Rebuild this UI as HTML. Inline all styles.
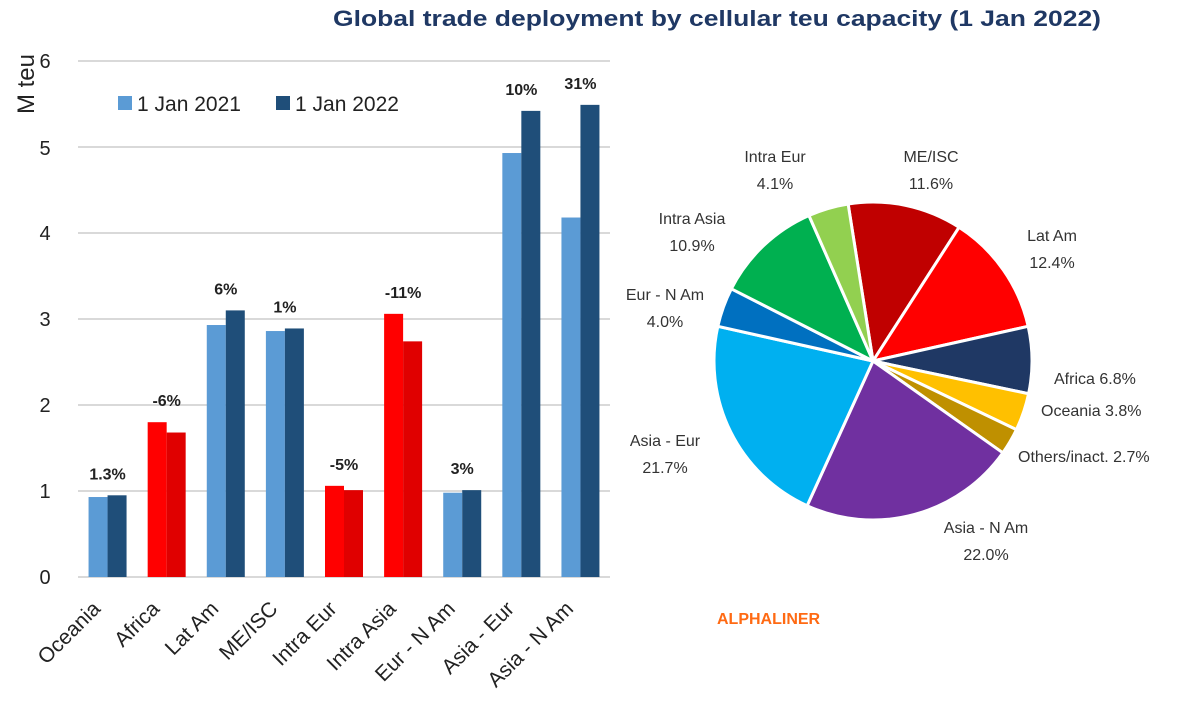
<!DOCTYPE html>
<html><head><meta charset="utf-8"><style>
body{margin:0;background:#fff;}
svg{display:block;font-family:"Liberation Sans",sans-serif;}
</style></head><body>
<svg id="s" width="1200" height="712" viewBox="0 0 1200 712" xmlns="http://www.w3.org/2000/svg">
<rect width="1200" height="712" fill="#fff"/>
<text x="333" y="26" textLength="768" lengthAdjust="spacingAndGlyphs" font-size="22" font-weight="bold" fill="#1f3864">Global trade deployment by cellular teu capacity (1 Jan 2022)</text>
<g id="grid" stroke="#d9d9d9" stroke-width="2"></g>
<g id="bars"></g>
<g font-size="20" fill="#222" text-anchor="middle">
<text x="45" y="68">6</text><text x="45" y="155">5</text><text x="45" y="240">4</text><text x="45" y="326">3</text><text x="45" y="412">2</text><text x="45" y="498">1</text><text x="45" y="584">0</text>
</g>
<text transform="translate(34,84) rotate(-90)" text-anchor="middle" font-size="24" fill="#222">M teu</text>
<rect x="118" y="96" width="14" height="14" fill="#5b9bd5"/>
<text x="137" y="111" font-size="21" fill="#222">1 Jan 2021</text>
<rect x="276" y="96" width="14" height="14" fill="#1f4e79"/>
<text x="295" y="111" font-size="21" fill="#222">1 Jan 2022</text>
<g id="pie"></g>
<g font-size="16" fill="#333" text-anchor="middle">
<text x="775" y="162">Intra Eur</text><text x="775" y="189">4.1%</text>
<text x="931" y="162">ME/ISC</text><text x="931" y="189">11.6%</text>
<text x="1052" y="241">Lat Am</text><text x="1052" y="268">12.4%</text>
<text x="692" y="224">Intra Asia</text><text x="692" y="251">10.9%</text>
<text x="665" y="300">Eur - N Am</text><text x="665" y="327">4.0%</text>
<text x="665" y="446">Asia - Eur</text><text x="665" y="473">21.7%</text>
<text x="986" y="533">Asia - N Am</text><text x="986" y="560">22.0%</text>
</g>
<g font-size="16" fill="#333">
<text x="1054" y="384">Africa 6.8%</text>
<text x="1041" y="416">Oceania 3.8%</text>
<text x="1018" y="462">Others/inact. 2.7%</text>
</g>
<text x="717" y="624" font-size="16" font-weight="bold" fill="#ff6a13">ALPHALINER</text>
</svg>
<script>
const NS="http://www.w3.org/2000/svg";
function el(p,t,a,txt){const e=document.createElementNS(NS,t);for(const k in a)e.setAttribute(k,a[k]);if(txt)e.textContent=txt;p.appendChild(e);return e;}
const g=document.getElementById('grid');
const y=v=>577-v*86;
for(let i=1;i<=6;i++)el(g,'line',{x1:78,x2:610,y1:y(i),y2:y(i)});
const b=document.getElementById('bars');
const d=[["Oceania",.93,.95,0,"1.3%"],["Africa",1.8,1.68,1,"-6%"],["Lat Am",2.93,3.1,0,"6%"],["ME/ISC",2.86,2.89,0,"1%"],["Intra Eur",1.06,1.01,1,"-5%"],["Intra Asia",3.06,2.74,1,"-11%"],["Eur - N Am",.98,1.01,0,"3%"],["Asia - Eur",4.93,5.42,0,"10%"],["Asia - N Am",4.18,5.49,0,"31%"]];
const cw=(610-78)/9;
d.forEach((r,i)=>{const c=78+cw*(i+.5);
el(b,'rect',{x:c-19,y:y(r[1]),width:19,height:r[1]*86,fill:r[3]?"#ff0000":"#5b9bd5"});
el(b,'rect',{x:c,y:y(r[2]),width:19,height:r[2]*86,fill:r[3]?"#e00000":"#1f4e79"});
el(b,'text',{x:c,y:y(Math.max(r[1],r[2]))-16,'text-anchor':'middle','font-size':16,'font-weight':'bold',fill:'#222'},r[4]);
el(b,'text',{transform:`translate(${c-6},610) rotate(-45)`,'text-anchor':'end','font-size':21,fill:'#222'},r[0]);
});
el(g,'line',{x1:78,x2:610,y1:577,y2:577});
const p=document.getElementById('pie');
const s=[[11.6,"#c00000"],[12.4,"#ff0000"],[6.8,"#1f3864"],[3.8,"#ffc000"],[2.7,"#bf9000"],[22,"#7030a0"],[21.7,"#00b0f0"],[4,"#0070c0"],[10.9,"#00b050"],[4.1,"#92d050"]];
const cx=873,cy=361,R=159;let a=-9;
s.forEach(q=>{const a2=a+q[0]*3.6;const r1=a*Math.PI/180,r2=a2*Math.PI/180;
const x1=cx+R*Math.sin(r1),y1=cy-R*Math.cos(r1),x2=cx+R*Math.sin(r2),y2=cy-R*Math.cos(r2);
el(p,'path',{d:`M${cx},${cy}L${x1},${y1}A${R},${R} 0 ${q[0]>50?1:0} 1 ${x2},${y2}Z`,fill:q[1],stroke:'#fff','stroke-width':3,'stroke-linejoin':'round'});a=a2;});
</script>
</body></html>
